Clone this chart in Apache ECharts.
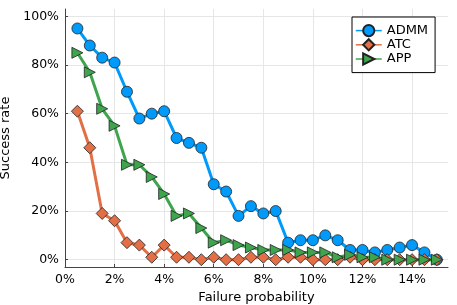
<!DOCTYPE html>
<html>
<head>
<meta charset="utf-8">
<script src="https://cdn.jsdelivr.net/npm/echarts@6/dist/echarts.min.js"></script>
<style>html,body{margin:0;padding:0;background:#fff}#c{width:457px;height:305px}</style>
</head>
<body>
<div id="c"></div>
<script>
const failureProb = [0.5,1,1.5,2,2.5,3,3.5,4,4.5,5,5.5,6,6.5,7,7.5,8,8.5,9,9.5,10,10.5,11,11.5,12,12.5,13,13.5,14,14.5,15];
const admm = [95,88,83,81,69,58,60,61,50,48,46,31,28,18,22,19,20,7,8,8,10,8,4,4,3,4,5,6,3,0];
const atc  = [61,46,19,16,7,6,1,6,1,1,0,1,0,0,1,1,0,1,1,0,0,0,1,0,0,0,0,0,0,0];
const app  = [85,77,62,55,39,39,34,27,18,19,13,7,8,6,5,4,4,4,3,3,3,1,2,1,1,0,0,0,0,0];
const xTicks = [0,2,4,6,8,10,12,14];
const yTicks = [0,20,40,60,80,100];

const FONT = 'DejaVu Sans';
const pair = ys => failureProb.map((x,i)=>[x, ys[i]]);
const tri = 'path://M0,0 L10,5 L0,10 Z';

const chart = echarts.init(document.getElementById('c'), null, {renderer:'canvas'});
chart.setOption({
  animation: false,
  backgroundColor: '#ffffff',
  grid: {left: 65, right: 9, top: 9, bottom: 38, containLabel: false, outerBoundsMode: 'none'},
  legend: {
    orient: 'vertical', left: 352, top: 17,
    padding: [7, 7, 7, 3], itemGap: 1,
    itemWidth: 26, itemHeight: 14, itemTextGap: 5,
    borderColor: '#000', borderWidth: 1, borderRadius: 0,
    backgroundColor: '#fff',
    lineStyle: {width: 1.5},
    textStyle: {fontFamily: FONT, fontSize: 13, color: '#000'},
    data: ['ADMM','ATC','APP']
  },
  xAxis: {
    type: 'value', min: 0, max: 15.45,
    name: 'Failure probability', nameLocation: 'middle', nameGap: 21,
    nameTextStyle: {fontFamily: FONT, fontSize: 13, color: '#000'},
    axisLine: {show: true, onZero: false, lineStyle: {color: '#444', width: 1}},
    axisTick: {show: true, inside: true, length: 3, customValues: xTicks, lineStyle: {color: '#444'}},
    axisLabel: {customValues: xTicks, margin: 6, fontFamily: FONT, fontSize: 12.5, color: '#000', formatter: v => v + '%'},
    splitLine: {show: true, lineStyle: {color: '#e6e6e6', width: 1}}
  },
  yAxis: {
    type: 'value', min: -3, max: 103,
    name: 'Success rate', nameLocation: 'middle', nameGap: 46,
    nameTextStyle: {fontFamily: FONT, fontSize: 13, color: '#000'},
    axisLine: {show: true, onZero: false, lineStyle: {color: '#444', width: 1}},
    axisTick: {show: true, inside: true, length: 3, customValues: yTicks, lineStyle: {color: '#444'}},
    axisLabel: {customValues: yTicks, margin: 6, fontFamily: FONT, fontSize: 12.5, color: '#000', formatter: v => v + '%'},
    splitLine: {show: true, lineStyle: {color: '#e6e6e6', width: 1}}
  },
  series: [
    {name: 'ADMM', type: 'line', data: pair(admm), symbol: 'circle', symbolSize: 11,
     lineStyle: {color: '#009AFA', width: 3}, itemStyle: {color: '#009AFA', borderColor: '#222', borderWidth: 0.8}},
    {name: 'ATC', type: 'line', data: pair(atc), symbol: 'diamond', symbolSize: 12,
     lineStyle: {color: '#E26F46', width: 3}, itemStyle: {color: '#E26F46', borderColor: '#222', borderWidth: 0.8}},
    {name: 'APP', type: 'line', data: pair(app), symbol: tri, symbolSize: 11,
     lineStyle: {color: '#3EA44E', width: 3}, itemStyle: {color: '#3EA44E', borderColor: '#222', borderWidth: 0.8}}
  ]
});
</script>
</body>
</html>
